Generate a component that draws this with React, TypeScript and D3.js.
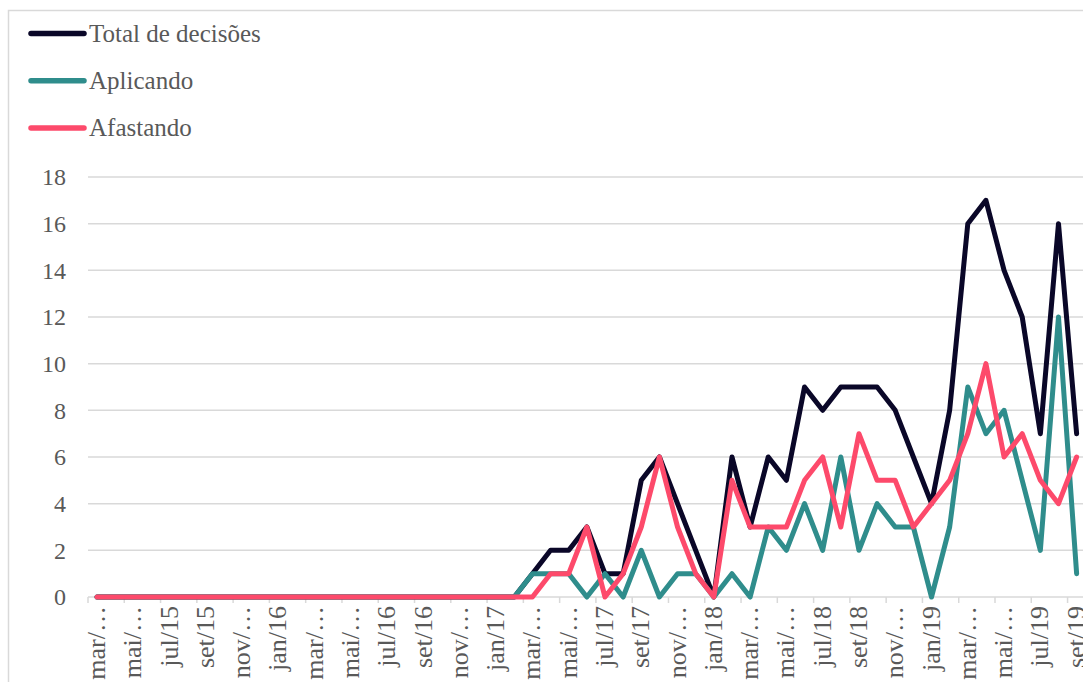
import React from "react";
import * as d3 from "d3";

const months = ["jan", "fev", "mar", "abr", "mai", "jun", "jul", "ago", "set", "out", "nov", "dez"];
const categories: string[] = [];
for (let y = 15; y <= 19; y++) {
  for (let m = 0; m < 12; m++) {
    if ((y === 15 && m < 2) || (y === 19 && m > 8)) continue;
    categories.push(`${months[m]}/${y}`);
  }
}

const totalDecisoes = [
  0, 0, 0, 0, 0, 0, 0, 0, 0, 0,
  0, 0, 0, 0, 0, 0, 0, 0, 0, 0, 0, 0,
  0, 0, 1, 2, 2, 3, 1, 1, 5, 6, 4, 2,
  0, 6, 3, 6, 5, 9, 8, 9, 9, 9, 8, 6,
  4, 8, 16, 17, 14, 12, 7, 16, 7,
];
const aplicando = [
  0, 0, 0, 0, 0, 0, 0, 0, 0, 0,
  0, 0, 0, 0, 0, 0, 0, 0, 0, 0, 0, 0,
  0, 0, 1, 1, 1, 0, 1, 0, 2, 0, 1, 1,
  0, 1, 0, 3, 2, 4, 2, 6, 2, 4, 3, 3,
  0, 3, 9, 7, 8, 5, 2, 12, 1,
];
const afastando = [
  0, 0, 0, 0, 0, 0, 0, 0, 0, 0,
  0, 0, 0, 0, 0, 0, 0, 0, 0, 0, 0, 0,
  0, 0, 0, 1, 1, 3, 0, 1, 3, 6, 3, 1,
  0, 5, 3, 3, 3, 5, 6, 3, 7, 5, 5, 3,
  4, 5, 7, 10, 6, 7, 5, 4, 6,
];

const tickLabels = [
  "mar/…", "mai/…", "jul/15", "set/15", "nov/…", "jan/16", "mar/…", "mai/…", "jul/16", "set/16",
  "nov/…", "jan/17", "mar/…", "mai/…", "jul/17", "set/17", "nov/…", "jan/18", "mar/…", "mai/…",
  "jul/18", "set/18", "nov/…", "jan/19", "mar/…", "mai/…", "jul/19", "set/19",
];
const yTicks = [0, 2, 4, 6, 8, 10, 12, 14, 16, 18];

const seriesNames = ["Total de decisões", "Aplicando", "Afastando"];
const seriesColors = ["#0a0728", "#2f8d8c", "#fd4a6b"];
const seriesData = [totalDecisoes, aplicando, afastando];

const FONT = "'Liberation Serif', serif";
const TEXT = "#595959";

export default function App() {
  const left = 88;
  const bandW = 18.14;
  const x = d3.scaleBand<string>().domain(categories).range([left, left + bandW * categories.length]).padding(0);
  const y = d3.scaleLinear().domain([0, 18]).range([597, 177]);
  const cx = (i: number) => (x(categories[i]) as number) + x.bandwidth() / 2;
  const line = d3
    .line<number>()
    .x((_, i) => cx(i))
    .y((d) => y(d));
  const right = 1083;

  return (
    <svg
      width={1083}
      height={682}
      style={{ position: "absolute", left: 0, top: 0, background: "#fff" }}
    >
      <rect x={8.5} y={10.5} width={1100} height={700} fill="#fff" stroke="#d9d9d9" strokeWidth={1.5} />
      {yTicks.map((t) => (
        <g key={t}>
          {t !== 0 && <line x1={left} x2={right} y1={y(t)} y2={y(t)} stroke="#d9d9d9" strokeWidth={1.5} />}
          <text x={66} y={y(t)} dy="0.35em" textAnchor="end" fontFamily={FONT} fontSize={24} fill={TEXT}>
            {t}
          </text>
        </g>
      ))}
      <line x1={left} x2={right} y1={y(0)} y2={y(0)} stroke="#d9d9d9" strokeWidth={1.5} />
      {tickLabels.map((lab, k) => {
        const i = k * 2;
        const tx = x(categories[i]) as number;
        return (
          <g key={k}>
            <line x1={tx} x2={tx} y1={y(0)} y2={y(0) + 6} stroke="#d9d9d9" strokeWidth={1.5} />
            <text
              transform={`translate(${cx(i) + 8},606) rotate(-90)`}
              textAnchor="end"
              fontFamily={FONT}
              fontSize={26}
              fill={TEXT}
            >
              {lab}
            </text>
          </g>
        );
      })}
      {seriesData.map((s, si) => (
        <path
          key={si}
          d={line(s) as string}
          fill="none"
          stroke={seriesColors[si]}
          strokeWidth={5}
          strokeLinejoin="round"
          strokeLinecap="round"
        />
      ))}
      {seriesNames.map((n, si) => {
        const ly = 33.5 + si * 47.3;
        return (
          <g key={n}>
            <line x1={31} x2={84} y1={ly} y2={ly} stroke={seriesColors[si]} strokeWidth={5.5} strokeLinecap="round" />
            <text x={89} y={ly + 8} fontFamily={FONT} fontSize={25} fill={TEXT}>
              {n}
            </text>
          </g>
        );
      })}
    </svg>
  );
}
